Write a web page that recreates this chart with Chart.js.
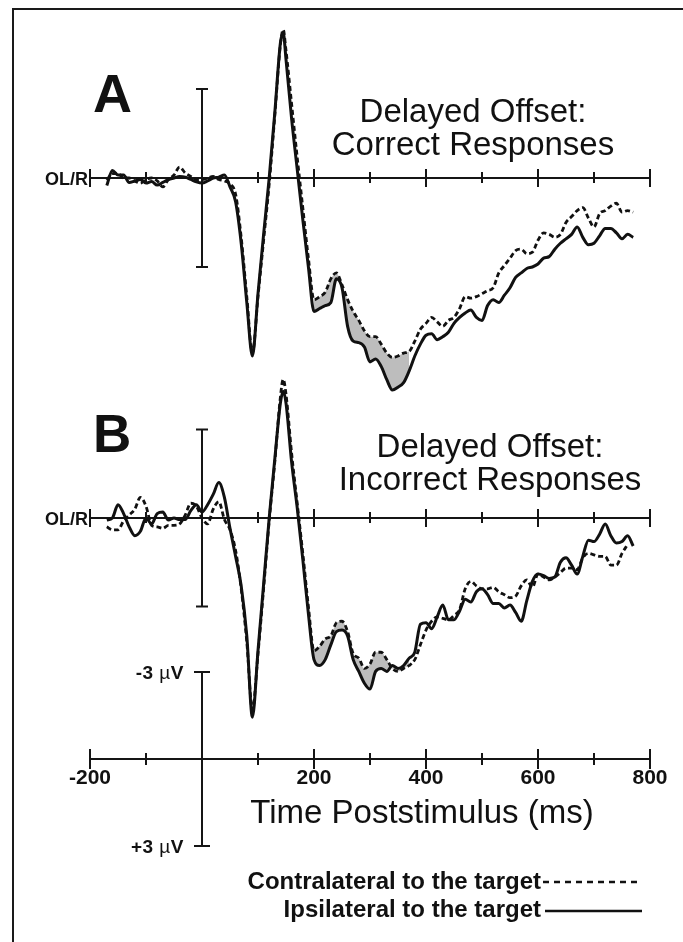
<!DOCTYPE html>
<html>
<head>
<meta charset="utf-8">
<script src="https://cdn.jsdelivr.net/npm/chart.js@4.4.0/dist/chart.umd.min.js"></script>
<style>
  body { margin: 0; background: #fff; }
  #wrap { position: relative; width: 683px; height: 942px; overflow: hidden; background: #fff; }
  #frame { position: absolute; left: 12px; top: 8px; width: 700px; height: 960px;
           border-left: 2px solid #1a1a1a; border-top: 2px solid #1a1a1a; }
  canvas { position: absolute; left: 0; top: 0; }
  .t { position: absolute; white-space: nowrap; color: #111; }
</style>
</head>
<body>
<div id="wrap">
  <div id="frame"></div>
  <canvas id="erp" width="683" height="942"></canvas>
</div>
<script>
/* Tiempos (ms) comunes a las cuatro curvas */
var times = [-170,-160,-150,-140,-130,-120,-110,-100,-90,-80,-70,-60,-50,-40,-30,-20,-10,0,10,20,
  30,40,50,60,70,80,90,100,110,120,130,140,145,150,160,170,180,190,200,210,
  220,230,240,250,260,270,280,290,300,310,320,330,340,350,360,370,380,390,400,410,
  420,430,440,450,460,470,480,490,500,510,520,530,540,550,560,570,580,590,600,610,
  620,630,640,650,660,670,680,690,700,710,720,730,740,750,760,770];

/* Panel A: Correct Responses (uV, negativo arriba) */
var contraA = [0.07,-0.15,-0.15,0.0,0.0,0.1,0.17,0.05,0.0,0.1,
  0.3,0.05,-0.1,-0.37,-0.17,-0.05,0.05,0.05,0.0,-0.05,
  0.05,0.1,0.2,0.55,2.0,4.0,5.9,4.0,2.1,0.2,
  -2.1,-4.5,-5.0,-4.3,-2.5,-0.7,1.0,2.7,4.1,4.0,
  3.85,3.4,3.2,3.6,4.1,4.5,4.8,5.15,5.35,5.35,
  5.6,5.9,6.05,6.0,5.9,5.85,5.5,5.1,4.9,4.7,
  4.85,5.0,4.8,4.7,4.4,4.0,4.05,4.0,3.9,3.8,
  3.7,3.2,2.95,2.7,2.45,2.4,2.55,2.5,2.1,1.85,
  1.9,2.0,1.9,1.5,1.3,1.1,1.0,1.35,1.65,1.2,
  1.1,0.95,0.85,1.15,1.1,1.15];
var ipsiA = [0.25,-0.25,-0.1,-0.1,0.15,0.1,0.05,0.17,0.12,0.24,
  0.15,0.05,0.0,-0.05,-0.03,0.05,0.13,0.17,0.1,0.0,
  -0.03,-0.1,0.3,0.8,2.2,4.2,6.0,3.9,1.9,0.0,
  -2.2,-4.55,-4.9,-4.0,-2.0,-0.3,1.4,3.0,4.5,4.4,
  4.3,4.2,3.4,3.7,5.0,5.5,5.55,5.7,6.2,6.1,
  6.35,6.8,7.15,7.05,6.9,6.5,6.0,5.6,5.3,5.25,
  5.45,5.35,5.2,4.9,4.7,4.55,4.45,4.7,4.8,4.3,
  4.1,4.2,3.95,3.7,3.35,3.2,3.05,3.0,2.9,2.7,
  2.65,2.4,2.2,2.05,1.9,1.65,2.0,2.25,2.2,1.95,
  1.7,1.7,1.85,2.05,1.9,2.0];

/* Panel B: Incorrect Responses */
var contraB = [0.3,0.4,0.4,0.1,-0.1,-0.3,-0.7,-0.4,0.25,0.3,
  0.35,0.25,0.25,0.2,-0.1,-0.5,-0.4,0.0,0.2,-0.3,
  -0.55,0.05,0.4,1.1,2.4,4.2,6.5,4.6,2.4,0.1,
  -1.9,-4.1,-4.7,-4.2,-2.2,-0.5,1.2,3.0,4.5,4.35,
  4.1,4.0,3.55,3.5,3.85,4.6,4.75,5.1,4.95,4.55,
  4.55,4.8,5.1,5.2,5.1,5.0,4.8,4.3,3.8,3.5,
  3.35,3.4,3.45,3.3,3.1,2.4,2.15,2.3,2.4,2.4,
  2.35,2.5,2.6,2.7,2.65,2.3,2.1,2.35,1.9,2.0,
  2.1,2.0,1.85,1.7,1.7,1.75,1.35,1.2,1.25,1.3,
  1.3,1.6,1.6,1.2,0.9,null];
var ipsiB = [0.07,0.0,-0.45,-0.15,0.3,0.6,0.45,0.0,0.2,-0.15,
  -0.2,0.07,0.0,0.05,0.05,-0.25,-0.45,-0.2,-0.45,-0.8,
  -1.2,-0.7,0.35,1.3,2.3,4.0,6.75,4.5,2.25,0.0,
  -2.0,-3.9,-4.3,-3.9,-1.9,-0.35,1.4,3.25,4.8,5.0,
  4.8,4.3,3.85,3.8,4.0,4.8,5.2,5.6,5.8,5.2,
  5.1,5.2,5.0,5.1,5.0,4.75,4.55,3.6,3.55,3.75,
  3.35,2.95,3.45,3.45,3.15,2.75,2.85,2.5,2.4,2.6,
  2.9,2.9,3.05,2.95,3.2,3.5,2.8,2.15,1.9,1.95,
  2.05,2.0,1.5,1.35,1.6,1.9,1.3,0.75,0.8,0.55,
  0.2,0.6,0.85,0.8,0.6,0.95];

/* Ejes */
var axisTicks = [-200,-100,0,100,200,300,400,500,600,700,800];
var axisLabels = [-200,200,400,600,800];
var fillFrom = 200, fillTo = 370;

var W = 683, H = 942;
var PX_MS = 0.56;        // px por ms
var ZERO_MS_PX = 202;    // pixel de t = 0

function yRange(zeroPx, pxPerUv) {
  return { min: -zeroPx / pxPerUv, max: (H - zeroPx) / pxPerUv };
}
var rA = yRange(178, 89 / 3), rB = yRange(518, 88.5 / 3), rC = yRange(759, 87 / 3);

function pts(vals) {
  return times.map(function (t, i) { return { x: t, y: vals[i] }; });
}
function win(vals) {
  return pts(vals).filter(function (p) { return p.x >= fillFrom && p.x <= fillTo; });
}

function lineSet(vals, axis, dashed) {
  return {
    data: pts(vals), yAxisID: axis,
    borderColor: '#111', borderWidth: dashed ? 2.8 : 3,
    borderDash: dashed ? [5, 3] : [],
    pointRadius: 0, fill: false, order: 0,
    cubicInterpolationMode: 'monotone'
  };
}
function winSet(vals, axis, fillPrev) {
  return {
    data: win(vals), yAxisID: axis,
    borderColor: 'rgba(0,0,0,0)', borderWidth: 0,
    backgroundColor: '#bdbdbd',
    pointRadius: 0, fill: fillPrev ? '-1' : false, order: 5,
    cubicInterpolationMode: 'monotone'
  };
}

function seg(ctx, x1, y1, x2, y2) {
  ctx.beginPath(); ctx.moveTo(x1, y1); ctx.lineTo(x2, y2); ctx.stroke();
}

var ejes = {
  id: 'ejes',
  beforeDatasetsDraw: function (chart) {
    var ctx = chart.ctx, x = chart.scales.x;
    ctx.save();
    ctx.strokeStyle = '#151515';
    ctx.lineWidth = 2;
    // lineas base de los paneles A y B
    ['yA', 'yB'].forEach(function (id) {
      var y = chart.scales[id], y0 = y.getPixelForValue(0);
      seg(ctx, x.getPixelForValue(-200), y0, x.getPixelForValue(800), y0);
      axisTicks.forEach(function (t) {
        if (t === 0) return;
        var px = x.getPixelForValue(t), big = t % 200 === 0;
        seg(ctx, px, y0 - (big ? 9 : 6), px, y0 + (big ? 9 : 5));
      });
      var bx = x.getPixelForValue(0), top = y.getPixelForValue(-3), bot = y.getPixelForValue(3);
      seg(ctx, bx, top, bx, bot);
      seg(ctx, bx - 6, top, bx + 6, top);
      seg(ctx, bx - 6, bot, bx + 6, bot);
    });
    // escala de abajo
    var yc = chart.scales.yC, c0 = yc.getPixelForValue(0);
    seg(ctx, x.getPixelForValue(-200), c0, x.getPixelForValue(800), c0);
    axisTicks.forEach(function (t) {
      if (t === 0) return;
      var px = x.getPixelForValue(t), big = t % 200 === 0;
      seg(ctx, px, c0 - (big ? 10 : 6), px, c0 + (big ? 10 : 6));
    });
    var cx = x.getPixelForValue(0), ct = yc.getPixelForValue(-3), cb = yc.getPixelForValue(3);
    seg(ctx, cx, ct, cx, cb);
    seg(ctx, cx - 8, ct, cx + 8, ct);
    seg(ctx, cx - 8, cb, cx + 8, cb);
    ctx.restore();
  },
  afterDraw: function (chart) {
    // muestras de la leyenda
    var ctx = chart.ctx;
    ctx.save();
    ctx.strokeStyle = '#111';
    ctx.lineWidth = 2.5;
    ctx.setLineDash([6, 5]);
    seg(ctx, 543, 882, 642, 882);
    ctx.setLineDash([]);
    seg(ctx, 545, 911, 642, 911);
    ctx.restore();
  }
};

var chart = new Chart(document.getElementById('erp').getContext('2d'), {
  type: 'line',
  data: {
    datasets: [
      winSet(contraA, 'yA', false), winSet(ipsiA, 'yA', true),
      winSet(contraB, 'yB', false), winSet(ipsiB, 'yB', true),
      lineSet(contraA, 'yA', true), lineSet(ipsiA, 'yA', false),
      lineSet(contraB, 'yB', true), lineSet(ipsiB, 'yB', false)
    ]
  },
  options: {
    responsive: false,
    animation: false,
    events: [],
    layout: { padding: 0, autoPadding: false },
    plugins: { legend: { display: false }, tooltip: { enabled: false } },
    scales: {
      x: { type: 'linear', display: false, bounds: 'data',
           min: -ZERO_MS_PX / PX_MS, max: (W - ZERO_MS_PX) / PX_MS },
      yA: { type: 'linear', display: false, reverse: true, bounds: 'data', min: rA.min, max: rA.max },
      yB: { type: 'linear', display: false, reverse: true, bounds: 'data', min: rB.min, max: rB.max },
      yC: { type: 'linear', display: false, reverse: true, bounds: 'data', min: rC.min, max: rC.max }
    }
  },
  plugins: [ejes]
});

/* Textos */
var wrap = document.getElementById('wrap');
var SANS = '"Liberation Sans", Arial, Helvetica, sans-serif';
function texto(str, x, base, size, weight, align, spacing) {
  var d = document.createElement('div');
  d.className = 't';
  d.textContent = str;
  d.style.font = weight + ' ' + size + 'px ' + SANS;
  d.style.lineHeight = size + 'px';
  if (spacing) d.style.letterSpacing = spacing + 'px';
  d.style.top = (base - 0.8465 * size) + 'px';
  if (align === 'center') { d.style.left = x + 'px'; d.style.transform = 'translateX(-50%)'; }
  else if (align === 'right') { d.style.right = (W - x) + 'px'; }
  else { d.style.left = x + 'px'; }
  wrap.appendChild(d);
  return d;
}

texto('A', 93, 112, 54, 'bold', 'left');
texto('B', 93, 452, 53, 'bold', 'left');
texto('Delayed Offset:', 473, 122, 33, 'normal', 'center');
texto('Correct Responses', 473, 155, 33, 'normal', 'center');
texto('Delayed Offset:', 490, 457, 33, 'normal', 'center');
texto('Incorrect Responses', 490, 490, 33, 'normal', 'center');

var xs = chart.scales.x;
texto('OL/R', xs.getPixelForValue(-200) - 2, chart.scales.yA.getPixelForValue(0) + 7, 18, 'bold', 'right');
texto('OL/R', xs.getPixelForValue(-200) - 2, chart.scales.yB.getPixelForValue(0) + 7, 18, 'bold', 'right');

axisLabels.forEach(function (t) {
  texto(String(t), xs.getPixelForValue(t), chart.scales.yC.getPixelForValue(0) + 25, 21, 'bold', 'center');
});
texto('Time Poststimulus (ms)', 422, 823, 33, 'normal', 'center');

function microvolt(sign, uv) {
  var d = texto('', xs.getPixelForValue(0) - 18, chart.scales.yC.getPixelForValue(uv) + 7, 19, 'bold', 'right', 0.5);
  d.innerHTML = sign + '3 <span style="font-weight:normal">\u00b5</span>V';
}
microvolt('-', -3);
microvolt('+', 3);

texto('Contralateral to the target', 541, 889, 24, 'bold', 'right');
texto('Ipsilateral to the target', 541, 917, 24, 'bold', 'right');
</script>
</body>
</html>
